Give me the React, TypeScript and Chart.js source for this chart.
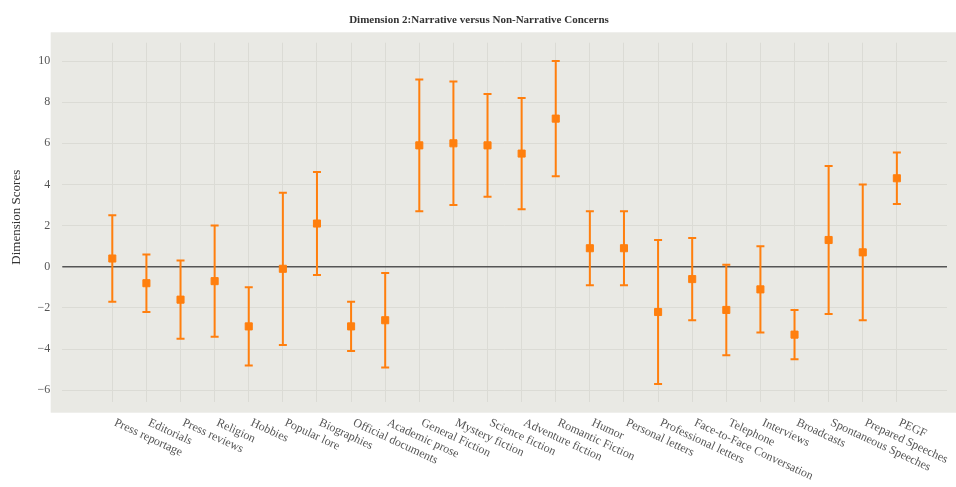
import { useEffect, useRef } from 'react';
import { Chart, registerables } from 'chart.js';

Chart.register(...registerables);

// Text registers ordered along the x axis
const categories = [
  'Press reportage', 'Editorials', 'Press reviews', 'Religion', 'Hobbies',
  'Popular lore', 'Biographies', 'Official documents', 'Academic prose',
  'General Fiction', 'Mystery fiction', 'Science fiction', 'Adventure fiction',
  'Romantic Fiction', 'Humor', 'Personal letters', 'Professional letters',
  'Face-to-Face Conversation', 'Telephone', 'Interviews', 'Broadcasts',
  'Spontaneous Speeches', 'Prepared Speeches', 'PEGF',
];

// Mean dimension score per register
const scores = [
  0.4, -0.8, -1.6, -0.7, -2.9, -0.1, 2.1, -2.9, -2.6, 5.9, 6.0, 5.9, 5.5, 7.2,
  0.9, 0.9, -2.2, -0.6, -2.1, -1.1, -3.3, 1.3, 0.7, 4.3,
];

// Half-length of each error bar (standard deviation)
const spreads = [
  2.1, 1.4, 1.9, 2.7, 1.9, 3.7, 2.5, 1.2, 2.3, 3.2, 3.0, 2.5, 2.7, 2.8,
  1.8, 1.8, 3.5, 2.0, 2.2, 2.1, 1.2, 3.6, 3.3, 1.25,
];

const yTicks = [-6, -4, -2, 0, 2, 4, 6, 8, 10];

const TITLE = 'Dimension 2:Narrative versus Non-Narrative Concerns';
const Y_TITLE = 'Dimension Scores';

const FONT = '"Liberation Serif", "DejaVu Serif", serif';
const ORANGE = '#ff7f0e';
const PANEL = 'rgb(233,233,228)';
const GRID = 'rgb(219,219,213)';
const LABEL_ANGLE = (25 * Math.PI) / 180;

const decorations = {
  id: 'decorations',
  beforeDraw(chart: any) {
    const { ctx, chartArea: a, width } = chart;
    ctx.save();
    ctx.fillStyle = PANEL;
    const left = a.left - 11.6;
    const top = a.top - 10.4;
    ctx.fillRect(left, top, width - left, a.bottom + 11 - top);
    ctx.restore();
  },
  beforeDatasetsDraw(chart: any) {
    const { ctx, chartArea: a, scales } = chart;
    const xs = scales.x;
    const ys = scales.y;
    ctx.save();
    // horizontal reference at zero
    ctx.strokeStyle = '#555555';
    ctx.lineWidth = 1.5;
    const y0 = ys.getPixelForValue(0);
    ctx.beginPath();
    ctx.moveTo(a.left, y0);
    ctx.lineTo(a.right, y0);
    ctx.stroke();

    // error bars with caps
    ctx.strokeStyle = ORANGE;
    ctx.lineWidth = 2;
    const cap = 4;
    scores.forEach((v, i) => {
      const px = xs.getPixelForValue(i);
      const hi = ys.getPixelForValue(v + spreads[i]);
      const lo = ys.getPixelForValue(v - spreads[i]);
      ctx.beginPath();
      ctx.moveTo(px, hi);
      ctx.lineTo(px, lo);
      ctx.moveTo(px - cap, hi);
      ctx.lineTo(px + cap, hi);
      ctx.moveTo(px - cap, lo);
      ctx.lineTo(px + cap, lo);
      ctx.stroke();
    });
    ctx.restore();
  },
  afterDraw(chart: any) {
    const { ctx, chartArea: a, scales, width } = chart;
    ctx.save();
    // title
    ctx.fillStyle = '#333333';
    ctx.font = `bold 11px ${FONT}`;
    ctx.textAlign = 'center';
    ctx.textBaseline = 'middle';
    ctx.fillText(TITLE, width / 2 + 1, 20);

    // y axis title
    ctx.save();
    ctx.translate(17, (a.top + a.bottom) / 2 - 5);
    ctx.rotate(-Math.PI / 2);
    ctx.font = `13px ${FONT}`;
    ctx.fillStyle = '#333333';
    ctx.textAlign = 'center';
    ctx.textBaseline = 'middle';
    ctx.fillText(Y_TITLE, 0, 0);
    ctx.restore();

    // slanted category labels
    const fontSize = 12;
    ctx.font = `${fontSize}px ${FONT}`;
    ctx.fillStyle = '#555555';
    ctx.textAlign = 'left';
    ctx.textBaseline = 'top';
    const baseY = a.bottom + 15;
    categories.forEach((label, i) => {
      const px = scales.x.getPixelForValue(i);
      ctx.save();
      ctx.translate(px + fontSize * Math.sin(LABEL_ANGLE), baseY);
      ctx.rotate(LABEL_ANGLE);
      ctx.fillText(label, 0, 0);
      ctx.restore();
    });
    ctx.restore();
  },
};

export default function App() {
  const canvasRef = useRef<HTMLCanvasElement | null>(null);

  useEffect(() => {
    const canvas = canvasRef.current;
    if (!canvas) return;
    const chart = new Chart(canvas, {
      type: 'scatter',
      data: {
        datasets: [
          {
            data: categories.map((_, i) => ({ x: i, y: scores[i] })),
            pointStyle: 'rect',
            pointRadius: 5,
            pointHoverRadius: 5,
            backgroundColor: ORANGE,
            borderColor: ORANGE,
            borderWidth: 1,
          },
        ],
      },
      options: {
        animation: false,
        responsive: false,
        maintainAspectRatio: false,
        events: [],
        layout: { padding: { left: 0, top: 42.7, right: 9, bottom: 85.3 } },
        plugins: {
          legend: { display: false },
          title: { display: false },
          tooltip: { enabled: false },
        },
        scales: {
          x: {
            type: 'linear',
            min: -1.466,
            max: 24.47,
            afterBuildTicks: (s: any) => {
              s.ticks = categories.map((_, i) => ({ value: i }));
            },
            afterFit: (s: any) => {
              s.height = 0;
            },
            ticks: { display: false },
            grid: { color: GRID, lineWidth: 1, drawTicks: false },
            border: { display: false },
          },
          y: {
            type: 'linear',
            min: -6.56,
            max: 10.89,
            afterBuildTicks: (s: any) => {
              s.ticks = yTicks.map((v) => ({ value: v }));
            },
            afterFit: (s: any) => {
              s.width = 62.3;
            },
            ticks: {
              padding: 12,
              color: '#555555',
              font: { family: FONT, size: 12 },
              callback: (v: any) => (v < 0 ? '\u2212' + Math.abs(v) : String(v)),
            },
            grid: { color: GRID, lineWidth: 1, drawTicks: false },
            border: { display: false },
          },
        },
      },
      plugins: [decorations],
    });
    return () => chart.destroy();
  }, []);

  return (
    <div style={{ position: 'fixed', left: 0, top: 0, width: 956, height: 487, background: '#ffffff' }}>
      <canvas ref={canvasRef} width={956} height={487} style={{ display: 'block' }} />
    </div>
  );
}
